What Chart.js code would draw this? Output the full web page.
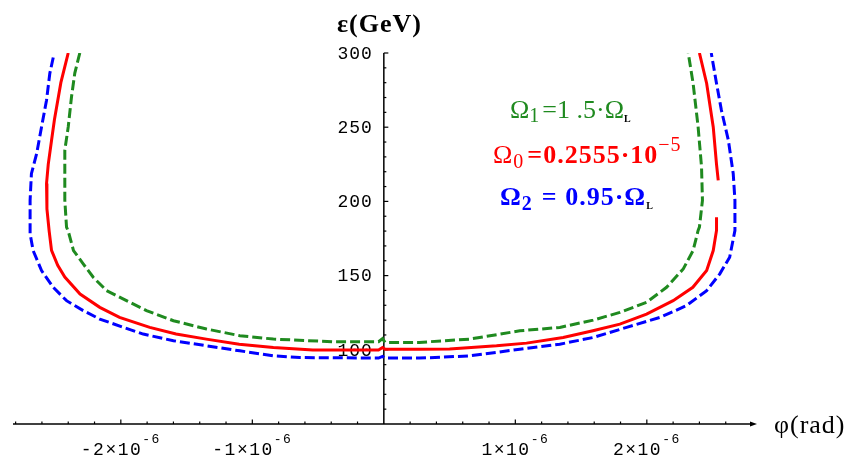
<!DOCTYPE html>
<html>
<head>
<meta charset="utf-8">
<script src="https://cdn.jsdelivr.net/npm/chart.js@4.4.1/dist/chart.umd.min.js"></script>
<style>
  html, body { margin: 0; padding: 0; background: #fff; }
  #wrap { width: 846px; height: 461px; position: relative; }
</style>
</head>
<body>
<div id="wrap"><canvas id="chart"></canvas></div>
<script>
// ---------------- DATA ----------------
// phi (rad) and epsilon (GeV)
const greenX = [-2.312e-6,-2.35e-6,-2.375e-6,-2.40e-6,-2.426e-6,-2.426e-6,-2.426e-6,-2.413e-6,-2.40e-6,-2.36e-6,-2.286e-6,-2.21e-6,-2.109e-6,-1.957e-6,-1.805e-6,-1.60e-6,-1.348e-6,-1.095e-6,-0.84e-6,-0.386e-6,-0.04e-6,-0.01e-6,0.01e-6,0.27e-6,0.654e-6,1.034e-6,1.338e-6,1.592e-6,1.795e-6,1.998e-6,2.15e-6,2.277e-6,2.352e-6,2.39e-6,2.40e-6,2.423e-6,2.416e-6,2.39e-6,2.352e-6,2.315e-6];
const greenY = [300,286.5,270.5,250.2,234.5,221,200.7,182.7,180,166.9,157.9,148.9,139.9,133.1,126.4,119.6,114.0,109.5,107.2,105.4,105.4,107.5,105,105,107.2,112.8,115.1,120.0,125.2,132.0,142.1,154.5,166.9,180.4,182.7,200.7,223.2,250.2,279.5,300];

const redX = [-2.40e-6,-2.456e-6,-2.505e-6,-2.527e-6,-2.552e-6,-2.565e-6,-2.562e-6,-2.545e-6,-2.527e-6,-2.48e-6,-2.426e-6,-2.31e-6,-2.16e-6,-2.01e-6,-1.78e-6,-1.58e-6,-1.35e-6,-1.10e-6,-0.84e-6,-0.54e-6,-0.04e-6,-0.01e-6,0.01e-6,0.27e-6,0.5e-6,0.857e-6,1.085e-6,1.364e-6,1.59e-6,1.795e-6,1.998e-6,2.2e-6,2.35e-6,2.455e-6,2.505e-6,2.53e-6,2.53e-6,null,2.543e-6,2.53e-6,2.505e-6,2.455e-6,2.40e-6];
const redY = [300,280,255,241,225,212,195,180,167,157,149,137.6,128.6,121.8,115.1,110.6,107.2,103.8,101.6,99.8,99.8,101.5,100.3,100.3,100.6,102.7,104.5,108.3,112.8,117.3,124.1,133.1,142.1,153.4,166.9,180.4,189.4,null,214.2,225,250.2,279.5,300];

const blueX = [-2.514e-6,-2.54e-6,-2.565e-6,-2.603e-6,-2.64e-6,-2.68e-6,-2.69e-6,-2.69e-6,-2.667e-6,-2.603e-6,-2.514e-6,-2.413e-6,-2.286e-6,-2.16e-6,-1.98e-6,-1.83e-6,-1.60e-6,-1.348e-6,-1.095e-6,-0.84e-6,-0.64e-6,-0.04e-6,-0.01e-6,0.01e-6,0.27e-6,0.654e-6,1.034e-6,1.338e-6,1.592e-6,1.846e-6,2.10e-6,2.30e-6,2.455e-6,2.555e-6,2.63e-6,2.67e-6,2.67e-6,2.657e-6,2.62e-6,2.567e-6,2.53e-6,2.49e-6];
const blueY = [297,286.3,268.2,250.2,232.2,218.7,200.7,178.2,166.9,153.4,142.1,133.1,126.4,120.7,115.1,110.6,106.1,102.7,99.3,95.9,94.8,94.4,95.5,94.4,94.4,95.9,100.4,103.8,108.3,115.1,121.8,129.7,139.9,151.2,162.4,180.4,200.7,218.7,241.2,261.5,279.5,300];

const xTickValues = [-2e-6, -1e-6, 1e-6, 2e-6];
const xTickLabels = ["-2×10^-6", "-1×10^-6", "1×10^-6", "2×10^-6"];
const yTickValues = [100, 150, 200, 250, 300];
const yTickLabels = ["100", "150", "200", "250", "300"];

const X_MIN = -2.82e-6, X_MAX = 2.815e-6;
const Y_MIN = 50, Y_MAX = 300;

function toPoints(xs, ys) {
  return xs.map((x, i) => (x === null ? { x: null, y: null } : { x: x, y: ys[i] }));
}

// ---------------- HELPERS ----------------
const MONO = "'Liberation Mono', 'DejaVu Sans Mono', monospace";
const SERIF = "'Liberation Serif', 'DejaVu Serif', serif";

// draws a list of text pieces one after the other; each piece may be raised / lowered
function drawRich(ctx, parts, x, y, align) {
  let total = 0;
  parts.forEach(p => { ctx.font = p.font; p.w = ctx.measureText(p.t).width + (p.gap || 0); total += p.w; });
  let cx = align === "center" ? x - total / 2 : (align === "right" ? x - total : x);
  ctx.textAlign = "left";
  ctx.textBaseline = "alphabetic";
  parts.forEach(p => {
    ctx.font = p.font;
    ctx.fillStyle = p.color || ctx.fillStyle;
    ctx.fillText(p.t, cx, y + (p.dy || 0));
    cx += p.w;
  });
}

const axesPlugin = {
  id: "axesAtOrigin",
  beforeDatasetsDraw(chart) {
    const ctx = chart.ctx;
    const xs = chart.scales.x, ys = chart.scales.y;
    const area = chart.chartArea;
    const x0 = xs.getPixelForValue(0);
    const yAxis = ys.getPixelForValue(Y_MIN);
    ctx.save();
    ctx.strokeStyle = "#000";
    ctx.fillStyle = "#000";
    ctx.lineWidth = 1.5;

    // horizontal axis with arrow
    ctx.beginPath();
    ctx.moveTo(area.left, yAxis);
    ctx.lineTo(area.right, yAxis);
    ctx.stroke();
    ctx.beginPath();
    ctx.moveTo(area.right + 3, yAxis);
    ctx.lineTo(area.right - 4, yAxis - 2.5);
    ctx.lineTo(area.right - 4, yAxis + 2.5);
    ctx.closePath();
    ctx.fill();

    // vertical axis
    ctx.beginPath();
    ctx.moveTo(x0, ys.getPixelForValue(Y_MAX));
    ctx.lineTo(x0, yAxis);
    ctx.stroke();

    // x ticks: minor every 0.2e-6, major every 1e-6
    ctx.lineWidth = 1.2;
    for (let k = -14; k <= 14; k++) {
      if (k === 0) continue;
      const px = xs.getPixelForValue(k * 0.2e-6);
      if (px < area.left || px > area.right - 4) continue;
      const len = k % 5 === 0 ? 4.5 : 2.5;
      ctx.beginPath();
      ctx.moveTo(px, yAxis);
      ctx.lineTo(px, yAxis - len);
      ctx.stroke();
    }
    // y ticks: minor every 10, major every 50
    for (let v = 60; v <= 300; v += 10) {
      const py = ys.getPixelForValue(v);
      const len = v % 50 === 0 ? 4.5 : 2.5;
      ctx.beginPath();
      ctx.moveTo(x0, py);
      ctx.lineTo(x0 + len, py);
      ctx.stroke();
    }

    // x tick labels
    ctx.fillStyle = "#000";
    ctx.letterSpacing = "1.5px";
    xTickValues.forEach((v, i) => {
      const [base, exp] = xTickLabels[i].split("^");
      drawRich(ctx, [
        { t: base, font: "18px " + MONO },
        { t: exp, font: "13px " + MONO, dy: -12 }
      ], xs.getPixelForValue(v), yAxis + 31, "center");
    });
    // y tick labels
    ctx.letterSpacing = "1px";
    ctx.font = "18px " + MONO;
    ctx.textAlign = "right";
    ctx.textBaseline = "middle";
    yTickValues.forEach((v, i) => {
      ctx.fillText(yTickLabels[i], x0 - 11, ys.getPixelForValue(v) + 1);
    });

    // axis titles
    ctx.letterSpacing = "1px";
    ctx.textAlign = "left";
    ctx.textBaseline = "alphabetic";
    ctx.font = "bold 26px " + SERIF;
    ctx.fillText("ε(GeV)", 337, 32);
    ctx.font = "26px " + SERIF;
    ctx.fillText("φ(rad)", 774, 433);
    ctx.letterSpacing = "0px";
    ctx.restore();
  },
  afterDatasetsDraw(chart) {
    const ctx = chart.ctx;
    ctx.save();
    // annotations
    ctx.letterSpacing = "0px";
    drawRich(ctx, [
      { t: "Ω", font: "26px " + SERIF, color: "#1f8a1f" },
      { t: "1", font: "20px " + SERIF, dy: 4, gap: 3 },
      { t: "=1 .5·Ω", font: "26px " + SERIF },
      { t: "L", font: "bold 10px " + SERIF, dy: 4, color: "#000" }
    ], 510, 118, "left");
    ctx.letterSpacing = "1px";
    drawRich(ctx, [
      { t: "Ω", font: "26px " + SERIF, color: "#ff0000" },
      { t: "0", font: "20px " + SERIF, dy: 5, gap: 3 },
      { t: "=0.2555·10", font: "bold 26px " + SERIF },
      { t: "−5", font: "20px " + SERIF, dy: -12 }
    ], 493, 163, "left");
    drawRich(ctx, [
      { t: "Ω", font: "bold 26px " + SERIF, color: "#0000ff" },
      { t: "2", font: "bold 20px " + SERIF, dy: 5, gap: 9 },
      { t: "= 0.95·Ω", font: "bold 26px " + SERIF },
      { t: "L", font: "bold 10px " + SERIF, dy: 4, color: "#000" }
    ], 500, 205, "left");
    ctx.letterSpacing = "0px";
    ctx.restore();
  }
};

// ---------------- CHART ----------------
const ctx = document.getElementById("chart").getContext("2d");

new Chart(ctx, {
  type: "scatter",
  data: {
    datasets: [
      {
        label: "Ω1 = 1.5·ΩL",
        data: toPoints(greenX, greenY),
        borderColor: "#1f8a1f",
        borderWidth: 3,
        borderDash: [10, 4]
      },
      {
        label: "Ω0 = 0.2555·10^-5",
        data: toPoints(redX, redY),
        borderColor: "#ff0000",
        borderWidth: 3
      },
      {
        label: "Ω2 = 0.95·ΩL",
        data: toPoints(blueX, blueY),
        borderColor: "#0000ff",
        borderWidth: 3,
        borderDash: [10, 4]
      }
    ]
  },
  options: {
    responsive: true,
    maintainAspectRatio: false,
    animation: false,
    showLine: true,
    spanGaps: false,
    elements: { point: { radius: 0 }, line: { tension: 0, fill: false } },
    layout: { padding: { left: 13, right: 92, top: 53, bottom: 37 } },
    plugins: { legend: { display: false }, tooltip: { enabled: false } },
    scales: {
      x: { type: "linear", min: X_MIN, max: X_MAX, display: false },
      y: { type: "linear", min: Y_MIN, max: Y_MAX, display: false }
    }
  },
  plugins: [axesPlugin]
});
</script>
</body>
</html>
